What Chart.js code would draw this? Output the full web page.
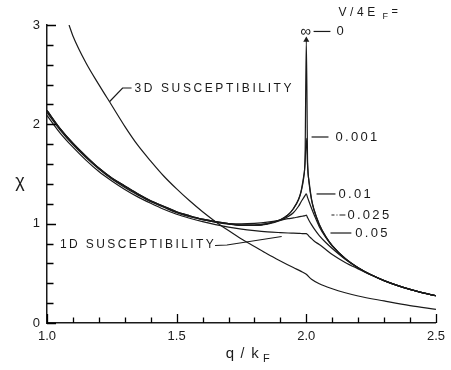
<!DOCTYPE html>
<html><head><meta charset="utf-8">
<script src="https://cdn.jsdelivr.net/npm/chart.js@4/dist/chart.umd.min.js"></script>
<style>html,body{margin:0;padding:0;background:#fff;}</style>
</head><body>
<canvas id="c" width="451" height="370"></canvas>
<script>
// ---- data ----
const q1D = [1.0,1.05,1.1,1.15,1.2,1.25,1.3,1.35,1.4,1.45,1.5,1.55,1.6,1.65,1.7,1.75,1.8,1.85,1.9,1.93,1.95,1.97,1.98,1.99,1.995,2.0,2.005,2.01,2.02,2.03,2.05,2.075,2.1,2.15,2.2,2.25,2.3,2.35,2.4,2.45,2.5];
const chiV0    = [2.14,1.96,1.81,1.68,1.56,1.46,1.38,1.30,1.23,1.175,1.12,1.08,1.045,1.02,1.0,0.985,0.985,1.0,1.04,1.09,1.15,1.245,1.33,1.48,1.64,2.85,1.62,1.44,1.25,1.14,0.995,0.87,0.78,0.65,0.557,0.485,0.427,0.379,0.338,0.304,0.274];
const chiV001  = [2.14,1.96,1.81,1.68,1.56,1.46,1.38,1.30,1.23,1.175,1.12,1.08,1.045,1.02,1.0,0.985,0.985,1.0,1.04,1.09,1.15,1.24,1.32,1.46,1.60,1.86,1.58,1.42,1.24,1.135,0.99,0.87,0.78,0.65,0.557,0.485,0.427,0.379,0.338,0.304,0.274];
const chiV01   = [2.135,1.955,1.805,1.675,1.555,1.455,1.375,1.295,1.225,1.17,1.115,1.075,1.04,1.015,0.995,0.982,0.982,0.995,1.032,1.072,1.11,1.175,1.22,1.262,1.283,1.30,1.262,1.225,1.155,1.09,0.97,0.862,0.775,0.648,0.556,0.485,0.427,0.379,0.338,0.304,0.274];
const chiV025  = [2.12,1.945,1.795,1.665,1.55,1.45,1.365,1.29,1.22,1.165,1.11,1.07,1.04,1.015,1.0,0.998,1.003,1.015,1.035,1.05,1.058,1.068,1.073,1.078,1.081,1.085,1.06,1.035,0.99,0.95,0.88,0.81,0.75,0.642,0.554,0.484,0.427,0.379,0.338,0.304,0.274];
const chiV05   = [2.09,1.915,1.77,1.64,1.525,1.43,1.345,1.27,1.205,1.145,1.095,1.055,1.02,0.99,0.965,0.945,0.93,0.918,0.91,0.906,0.904,0.902,0.901,0.90,0.90,0.90,0.89,0.875,0.85,0.825,0.79,0.74,0.69,0.61,0.545,0.483,0.426,0.379,0.338,0.304,0.274];
const q3D   = [1.085,1.1,1.15,1.2,1.25,1.3,1.35,1.4,1.45,1.5,1.55,1.6,1.65,1.7,1.75,1.8,1.85,1.9,1.95,1.98,2.0,2.02,2.05,2.1,2.15,2.2,2.3,2.4,2.5];
const chi3D = [3.0,2.89,2.62,2.40,2.19,1.98,1.79,1.63,1.48,1.35,1.23,1.12,1.02,0.93,0.845,0.77,0.695,0.625,0.558,0.52,0.49,0.44,0.395,0.345,0.305,0.272,0.222,0.175,0.138];
const xTicks = [1.0,1.5,2.0,2.5];
const yTicks = [0,1,2,3];
const xMinorTicks = [1.1,1.2,1.3,1.4,1.6,1.7,1.8,1.9,2.1,2.2,2.3,2.4];
const yMinorTicks = [0.2,0.4,0.6,0.8,1.2,1.4,1.6,1.8,2.2,2.4,2.6,2.8];
const vLabels = ['0','0.001','0.01','0.025','0.05'];

const FONT = '"Liberation Sans", Arial, sans-serif';
const INK = '#1a1a1a';
const pts = (xs, ys) => xs.map((v, i) => ({x: v, y: ys[i]}));
const peakIdx = chiV0.indexOf(Math.max(...chiV0));

const common = {borderColor: INK, borderWidth: 1.2, pointRadius: 0, fill: false, cubicInterpolationMode: 'monotone'};
const datasets = [
  Object.assign({}, common, {label: '3D', data: pts(q3D, chi3D)}),
  Object.assign({}, common, {label: 'V=0', data: pts(q1D, chiV0),
    pointRadius: ctx => ctx.dataIndex === peakIdx ? 3.5 : 0,
    pointStyle: 'triangle', pointBackgroundColor: INK, pointBorderColor: INK, pointBorderWidth: 0}),
  Object.assign({}, common, {label: 'V=0.001', data: pts(q1D, chiV001)}),
  Object.assign({}, common, {label: 'V=0.01', data: pts(q1D, chiV01)}),
  Object.assign({}, common, {label: 'V=0.025', data: pts(q1D, chiV025)}),
  Object.assign({}, common, {label: 'V=0.05', data: pts(q1D, chiV05)})
];

const tickPlugin = {
  id: 'inwardTicks',
  afterDatasetsDraw(chart) {
    const ctx = chart.ctx, ca = chart.chartArea, xs = chart.scales.x, ys = chart.scales.y;
    ctx.save();
    ctx.strokeStyle = '#000';
    ctx.lineWidth = 1.3;
    ctx.beginPath();
    xTicks.concat(xMinorTicks).forEach(v => {
      const px = Math.round(xs.getPixelForValue(v)) + 0.5;
      const len = xTicks.includes(v) ? 9 : 5.5;
      ctx.moveTo(px, ca.bottom);
      ctx.lineTo(px, ca.bottom - len);
    });
    yTicks.concat(yMinorTicks).forEach(v => {
      const py = Math.round(ys.getPixelForValue(v)) + 0.5;
      const len = yTicks.includes(v) ? 9 : 6.5;
      ctx.moveTo(ca.left, py);
      ctx.lineTo(ca.left + len, py);
    });
    ctx.stroke();
    ctx.restore();
  }
};

const annot = {
  id: 'annot',
  afterDraw(chart) {
    const {ctx, chartArea: ca, scales: {x, y}} = chart;
    const X = v => x.getPixelForValue(v), Y = v => y.getPixelForValue(v);
    ctx.save();
    ctx.strokeStyle = INK; ctx.fillStyle = INK; ctx.lineWidth = 1.2;
    const seg = (a, b, c, d) => { ctx.beginPath(); ctx.moveTo(a, b); ctx.lineTo(c, d); ctx.stroke(); };
    const txt = (s, px, py, size, sp, align) => {
      ctx.font = size + 'px ' + FONT; ctx.letterSpacing = (sp || 0) + 'px';
      ctx.textAlign = align || 'left'; ctx.textBaseline = 'middle'; ctx.fillText(s, px, py);
    };
    // curve labels with pointers
    ctx.beginPath(); ctx.moveTo(X(1.2417), Y(2.23)); ctx.lineTo(X(1.2915), Y(2.366)); ctx.lineTo(X(1.326), Y(2.366)); ctx.stroke();
    txt('3D SUSCEPTIBILITY', X(1.3376), Y(2.356), 12, 2.6);
    ctx.beginPath(); ctx.moveTo(X(1.648), Y(0.78)); ctx.lineTo(X(1.694), Y(0.785)); ctx.lineTo(X(1.905), Y(0.871)); ctx.stroke();
    txt('1D SUSCEPTIBILITY', X(1.05), Y(0.785), 12, 2.4);
    // V/4EF legend
    txt('V/4E', X(2.1239), Y(3.121), 12, 3.6);
    txt('F', X(2.1239) + 44, Y(3.121) + 4, 9, 0);
    txt('=', X(2.1239) + 53, Y(3.121) - 1, 11, 0);
    txt('\u221E', X(1.9973), Y(2.935), 15, 0, 'center');
    const leaders = [
      [2.028, 2.093, 2.935, 2.116, 'solid'],
      [2.0203, 2.0855, 1.8725, 2.1124, 'solid'],
      [2.0395, 2.1124, 1.299, 2.1239, 'solid'],
      [2.097, 2.1507, 1.087, 2.1584, 'dashdot'],
      [2.0932, 2.1737, 0.906, 2.189, 'solid']
    ];
    leaders.forEach((l, i) => {
      ctx.setLineDash(l[4] === 'dashdot' ? [3, 2, 1, 2, 9, 0] : []);
      seg(X(l[0]), Y(l[2]), X(l[1]), Y(l[2]));
      ctx.setLineDash([]);
      txt(vLabels[i], X(l[3]), Y(l[2]), 13, i === 0 ? 0 : 2.3);
    });
    // axis titles
    txt('\u03C7', ca.left - 27, Y(1.42), 18, 0, 'center');
    txt('q', X(1.7058), ca.bottom + 31, 15, 0, 'center');
    txt('/', X(1.7537), ca.bottom + 31, 14, 0, 'center');
    txt('k', X(1.8017), ca.bottom + 31, 15, 0, 'center');
    txt('F', X(1.8458), ca.bottom + 36, 11, 0, 'center');
    ctx.restore();
  }
};

new Chart(document.getElementById('c'), {
  type: 'line',
  data: {datasets},
  plugins: [tickPlugin, annot],
  options: {
    responsive: false, animation: false, devicePixelRatio: 1,
    layout: {padding: {left: 0, right: 13, top: 25, bottom: 0}},
    plugins: {legend: {display: false}, tooltip: {enabled: false}},
    scales: {
      x: {type: 'linear', min: 1, max: 2.5,
        grid: {display: false, drawTicks: false},
        border: {display: true, color: INK, width: 1.5},
        afterBuildTicks: s => { s.ticks = xTicks.map(v => ({value: v})); },
        afterFit: s => { s.height = 47; },
        ticks: {color: INK, font: {family: FONT, size: 13}, padding: 6, maxRotation: 0, autoSkip: false,
          callback: v => Number(v).toFixed(1)}},
      y: {min: 0, max: 3,
        grid: {display: false, drawTicks: false},
        border: {display: true, color: INK, width: 1.5},
        afterBuildTicks: s => { s.ticks = yTicks.map(v => ({value: v})); },
        afterFit: s => { s.width = 47; },
        ticks: {color: INK, font: {family: FONT, size: 13}, padding: 7,
          callback: v => String(v)}}
    }
  }
});
</script>
</body></html>
